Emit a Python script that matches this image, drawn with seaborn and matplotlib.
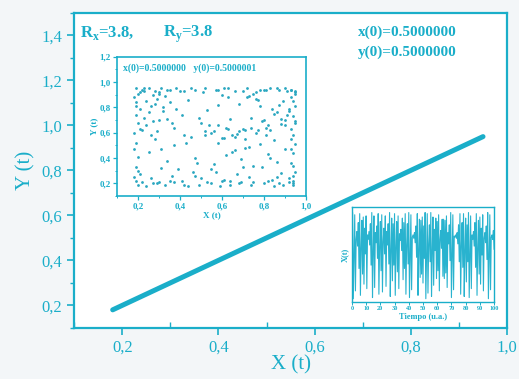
import numpy as np
import pandas as pd
import matplotlib.pyplot as plt
import matplotlib.ticker as mticker
import seaborn as sns

# ── data ──────────────────────────────────────────────────────
# main panel: X(t) vs Y(t), identical initial conditions -> diagonal
line_x = [0.18, 0.95]
line_y = [0.18, 0.95]

# inset 1: X(t) vs Y(t) with y(0) shifted by 1e-7 (estimated dots)
sc_x = [0.19, 0.22, 0.25, 0.28, 0.31, 0.35, 0.38, 0.42, 0.47, 0.52, 0.57, 0.61, 0.66, 0.72, 0.78, 0.83,
        0.87, 0.90, 0.93, 0.95, 0.20, 0.24, 0.27, 0.33, 0.37, 0.44, 0.49, 0.55, 0.59, 0.64, 0.69, 0.74,
        0.80, 0.85, 0.89, 0.94, 0.18, 0.19, 0.20, 0.19, 0.18, 0.20, 0.19, 0.21, 0.19, 0.18, 0.20, 0.19,
        0.94, 0.95, 0.93, 0.94, 0.95, 0.94, 0.93, 0.95, 0.94, 0.92, 0.95, 0.94, 0.93, 0.95, 0.94, 0.93,
        0.23, 0.26, 0.29, 0.24, 0.32, 0.27, 0.35, 0.30, 0.22, 0.38, 0.26, 0.33, 0.41, 0.29, 0.36, 0.24,
        0.70, 0.74, 0.78, 0.82, 0.86, 0.89, 0.72, 0.76, 0.80, 0.84, 0.88, 0.91, 0.68, 0.75, 0.81, 0.87,
        0.52, 0.56, 0.60, 0.63, 0.67, 0.71, 0.54, 0.58, 0.62, 0.66, 0.73, 0.77, 0.85, 0.90, 0.50, 0.64,
        0.21, 0.26, 0.31, 0.36, 0.41, 0.46, 0.50, 0.55, 0.61, 0.67, 0.73, 0.79, 0.84, 0.88, 0.92, 0.48,
        0.25, 0.34, 0.43, 0.28, 0.39, 0.47, 0.31, 0.45, 0.56, 0.62, 0.69, 0.57, 0.66, 0.75, 0.83, 0.71,
        0.44, 0.53, 0.60, 0.65, 0.70, 0.78, 0.82, 0.86, 0.49, 0.58, 0.63, 0.76, 0.81, 0.90, 0.37, 0.42,
        0.21, 0.23, 0.30, 0.34, 0.40, 0.45, 0.51, 0.58, 0.63, 0.70, 0.76, 0.81, 0.86, 0.91, 0.93, 0.95,
        0.22, 0.29, 0.35, 0.42, 0.53, 0.60, 0.68, 0.75, 0.82, 0.87, 0.92, 0.94, 0.20, 0.18, 0.21, 0.19,
        0.25, 0.27, 0.32, 0.30, 0.23, 0.37, 0.34, 0.28, 0.79, 0.83, 0.77, 0.85, 0.88, 0.73, 0.80, 0.90,
        0.55, 0.61, 0.68, 0.74, 0.58, 0.65, 0.71, 0.52, 0.94, 0.93, 0.95, 0.92, 0.30, 0.47, 0.64, 0.86]
sc_y = [0.95, 0.94, 0.95, 0.93, 0.95, 0.94, 0.95, 0.93, 0.94, 0.95, 0.94, 0.95, 0.93, 0.95, 0.94, 0.95,
        0.94, 0.95, 0.94, 0.93, 0.19, 0.18, 0.20, 0.19, 0.21, 0.18, 0.19, 0.20, 0.18, 0.19, 0.21, 0.19,
        0.20, 0.18, 0.19, 0.20, 0.25, 0.33, 0.41, 0.52, 0.60, 0.68, 0.74, 0.79, 0.84, 0.88, 0.91, 0.22,
        0.22, 0.29, 0.36, 0.44, 0.51, 0.58, 0.63, 0.68, 0.73, 0.77, 0.81, 0.85, 0.88, 0.91, 0.26, 0.55,
        0.72, 0.81, 0.87, 0.66, 0.77, 0.90, 0.84, 0.70, 0.62, 0.79, 0.58, 0.89, 0.74, 0.61, 0.68, 0.85,
        0.63, 0.72, 0.81, 0.66, 0.76, 0.85, 0.88, 0.60, 0.70, 0.79, 0.67, 0.74, 0.83, 0.91, 0.58, 0.82,
        0.58, 0.61, 0.56, 0.63, 0.59, 0.55, 0.66, 0.52, 0.64, 0.57, 0.49, 0.62, 0.54, 0.47, 0.68, 0.71,
        0.27, 0.24, 0.32, 0.26, 0.22, 0.29, 0.24, 0.31, 0.23, 0.27, 0.25, 0.33, 0.23, 0.28, 0.24, 0.36,
        0.45, 0.38, 0.52, 0.55, 0.31, 0.40, 0.47, 0.57, 0.35, 0.42, 0.39, 0.29, 0.46, 0.34, 0.40, 0.48,
        0.86, 0.78, 0.90, 0.45, 0.33, 0.51, 0.43, 0.37, 0.72, 0.82, 0.88, 0.87, 0.64, 0.70, 0.50, 0.58,
        0.92, 0.95, 0.92, 0.94, 0.93, 0.95, 0.92, 0.94, 0.95, 0.93, 0.92, 0.94, 0.95, 0.93, 0.94, 0.92,
        0.21, 0.20, 0.22, 0.19, 0.21, 0.22, 0.20, 0.21, 0.22, 0.20, 0.21, 0.19, 0.30, 0.47, 0.63, 0.81,
        0.76, 0.69, 0.80, 0.91, 0.93, 0.64, 0.71, 0.83, 0.69, 0.62, 0.86, 0.75, 0.71, 0.89, 0.94, 0.66,
        0.60, 0.56, 0.61, 0.64, 0.66, 0.58, 0.62, 0.61, 0.34, 0.47, 0.69, 0.79, 0.21, 0.26, 0.22, 0.25]

# inset 2: X(t) time series, sampled every 0.5 u.a. from 0 to 100
ts_step = 0.5
ts_x = [0.50, 0.95, 0.18, 0.56, 0.93, 0.25, 0.71, 0.78, 0.65, 0.86, 0.45, 0.94, 0.21, 0.63, 0.88, 0.40, 0.91, 0.31, 0.81, 0.58,
        0.92, 0.27, 0.75, 0.71, 0.78, 0.66, 0.85, 0.48, 0.95, 0.19, 0.59, 0.92, 0.28, 0.77, 0.68, 0.83, 0.54, 0.94, 0.22, 0.65,
        0.87, 0.43, 0.93, 0.24, 0.69, 0.81, 0.58, 0.92, 0.29, 0.78, 0.66, 0.85, 0.49, 0.95, 0.20, 0.61, 0.90, 0.34, 0.85, 0.48,
        0.94, 0.21, 0.64, 0.87, 0.42, 0.92, 0.27, 0.76, 0.70, 0.80, 0.61, 0.90, 0.35, 0.86, 0.45, 0.94, 0.22, 0.66, 0.85, 0.49,
        0.95, 0.19, 0.57, 0.93, 0.26, 0.73, 0.75, 0.72, 0.77, 0.68, 0.83, 0.55, 0.94, 0.21, 0.62, 0.89, 0.37, 0.88, 0.40, 0.91,
        0.32, 0.83, 0.54, 0.95, 0.18, 0.55, 0.94, 0.23, 0.67, 0.84, 0.51, 0.95, 0.20, 0.60, 0.91, 0.30, 0.80, 0.61, 0.90, 0.36,
        0.87, 0.43, 0.93, 0.25, 0.71, 0.79, 0.63, 0.89, 0.38, 0.89, 0.36, 0.88, 0.41, 0.92, 0.28, 0.77, 0.67, 0.84, 0.52, 0.95,
        0.19, 0.58, 0.93, 0.26, 0.74, 0.73, 0.75, 0.72, 0.77, 0.67, 0.84, 0.51, 0.94, 0.22, 0.65, 0.86, 0.46, 0.94, 0.20, 0.61,
        0.90, 0.33, 0.84, 0.51, 0.95, 0.19, 0.58, 0.92, 0.27, 0.75, 0.71, 0.78, 0.65, 0.86, 0.46, 0.94, 0.21, 0.63, 0.88, 0.40,
        0.91, 0.31, 0.81, 0.57, 0.93, 0.25, 0.72, 0.77, 0.68, 0.83, 0.53, 0.95, 0.18, 0.57, 0.93, 0.26, 0.73, 0.75, 0.71, 0.79,
        0.62]

main_ticks = [0.2, 0.4, 0.6, 0.8, 1.0]
main_yticks = [0.2, 0.4, 0.6, 0.8, 1.0, 1.2, 1.4]
in_xticks = [0.2, 0.4, 0.6, 0.8, 1.0]
in_yticks = [0.2, 0.4, 0.6, 0.8, 1.0, 1.2]
ts_ticks = [0, 10, 20, 30, 40, 50, 60, 70, 80, 90, 100]

CYAN = '#1aaec9'

sns.set_theme(style='ticks')
plt.rcParams['font.family'] = ['Liberation Serif', 'DejaVu Serif']
plt.rcParams['axes.edgecolor'] = CYAN
plt.rcParams['xtick.color'] = CYAN
plt.rcParams['ytick.color'] = CYAN


def comma(v, pos):
    return f'{v:.1f}'.replace('.', ',')


def style_frame(ax, lw):
    for s in ax.spines.values():
        s.set_color(CYAN)
        s.set_linewidth(lw)


fig = plt.figure(figsize=(5.19, 3.79), dpi=100, facecolor='#f3f6f8')

# ── main panel ───────────────────────────────────────────────
ax = fig.add_axes([0.143, 0.135, 0.834, 0.831])
ax.set_facecolor('white')
sns.lineplot(x=line_x, y=line_y, ax=ax, color=CYAN, linewidth=3.6)
ax.set_xlim(0.1, 1.0)
ax.set_ylim(0.1, 1.5)
ax.set_xticks(main_ticks)
ax.set_yticks(main_yticks)
ax.xaxis.set_minor_locator(mticker.MultipleLocator(0.1))
ax.yaxis.set_minor_locator(mticker.MultipleLocator(0.1))
ax.xaxis.set_major_formatter(mticker.FuncFormatter(comma))
ax.yaxis.set_major_formatter(mticker.FuncFormatter(comma))
ax.tick_params(which='major', direction='out', length=5, width=1.2, labelsize=12, labelcolor=CYAN)
ax.tick_params(axis='x', which='minor', direction='in', length=4, width=1.0)
ax.tick_params(axis='y', which='minor', direction='out', length=3, width=1.0)
ax.set_xlabel('X (t)', fontsize=15, color=CYAN, labelpad=0)
ax.set_ylabel('Y (t)', fontsize=15, color=CYAN, labelpad=4)
style_frame(ax, 1.6)

ax.text(0.013, 0.965, r'R$_\mathregular{x}$=3.8,', transform=ax.transAxes, fontsize=12,
        fontweight='bold', color=CYAN, va='top')
ax.text(0.205, 0.965, r'R$_\mathregular{y}$=3.8', transform=ax.transAxes, fontsize=12,
        fontweight='bold', color=CYAN, va='top')
ax.text(0.655, 0.96, 'x(0)=0.5000000', transform=ax.transAxes, fontsize=11,
        fontweight='bold', color=CYAN, va='top')
ax.text(0.655, 0.895, 'y(0)=0.5000000', transform=ax.transAxes, fontsize=11,
        fontweight='bold', color=CYAN, va='top')

# ── inset 1: scatter ─────────────────────────────────────────
ax1 = fig.add_axes([0.2255, 0.483, 0.364, 0.367])
ax1.set_facecolor('white')
sns.scatterplot(x=sc_x, y=sc_y, ax=ax1, color='#2aa7c0', s=4, linewidth=0)
ax1.set_xlim(0.1, 1.0)
ax1.set_ylim(0.1, 1.2)
ax1.set_xticks(in_xticks)
ax1.set_yticks(in_yticks)
ax1.xaxis.set_minor_locator(mticker.MultipleLocator(0.1))
ax1.yaxis.set_minor_locator(mticker.MultipleLocator(0.1))
ax1.xaxis.set_major_formatter(mticker.FuncFormatter(comma))
ax1.yaxis.set_major_formatter(mticker.FuncFormatter(comma))
ax1.tick_params(which='major', direction='out', length=3, width=0.9, labelsize=6.5,
                labelcolor=CYAN, pad=1.5)
ax1.tick_params(which='minor', direction='out', length=1.5, width=0.7)
for lab in ax1.get_xticklabels() + ax1.get_yticklabels():
    lab.set_fontweight('bold')
ax1.set_xlabel('X (t)', fontsize=6.5, fontweight='bold', color=CYAN, labelpad=1)
ax1.set_ylabel('Y (t)', fontsize=6.5, fontweight='bold', color=CYAN, labelpad=1)
ax1.text(0.03, 0.955, 'x(0)=0.5000000   y(0)=0.5000001', transform=ax1.transAxes,
         fontsize=7, fontweight='bold', color=CYAN, va='top')
style_frame(ax1, 1.2)

# ── inset 2: time series ─────────────────────────────────────
ts = pd.DataFrame({'t': np.arange(len(ts_x)) * ts_step, 'x': ts_x})
ax2 = fig.add_axes([0.678, 0.203, 0.274, 0.251])
ax2.set_facecolor('white')
sns.lineplot(data=ts, x='t', y='x', ax=ax2, color='#29b3cf', linewidth=0.8)
ax2.set_xlim(0, 100)
ax2.set_ylim(0.15, 1.0)
ax2.set_xticks(ts_ticks)
ax2.set_yticks([])
ax2.tick_params(axis='x', direction='out', length=2, width=0.7, labelsize=4.5,
                labelcolor=CYAN, pad=1)
for lab in ax2.get_xticklabels():
    lab.set_fontweight('bold')
ax2.set_xlabel('Tiempo (u.a.)', fontsize=6, fontweight='bold', color=CYAN, labelpad=1)
ax2.set_ylabel('X(t)', fontsize=6, fontweight='bold', color=CYAN, labelpad=2)
style_frame(ax2, 1.0)

fig.savefig('out.png', dpi=100, facecolor=fig.get_facecolor())
